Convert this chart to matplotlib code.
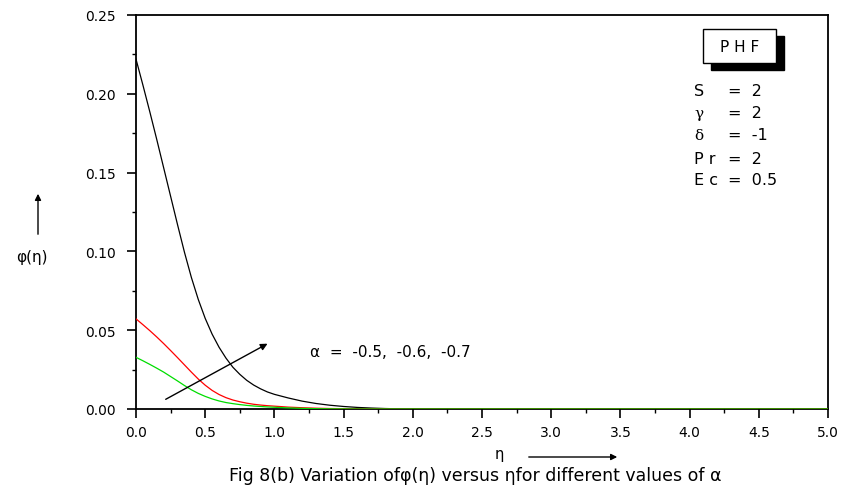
import numpy as np
import matplotlib
matplotlib.use("Agg")
import matplotlib.pyplot as plt
from matplotlib.patches import Rectangle, FancyArrowPatch
from matplotlib.ticker import MultipleLocator, FormatStrFormatter

plt.rcParams['font.family'] = ['DejaVu Sans']

# eta values and phi(eta) curves
eta = [0.0, 0.05, 0.1, 0.15, 0.2, 0.25, 0.3, 0.35, 0.4, 0.45, 0.5, 0.55, 0.6, 0.65, 0.7,
       0.75, 0.8, 0.85, 0.9, 0.95, 1.0, 1.1, 1.2, 1.3, 1.4, 1.5, 1.6, 1.7, 1.8, 1.9, 2.0, 5.0]
phi_a05 = [0.222, 0.2055, 0.1885, 0.171, 0.153, 0.135, 0.117, 0.0995, 0.0835, 0.0695, 0.0575,
           0.0475, 0.0392, 0.0323, 0.0265, 0.0220, 0.0182, 0.0152, 0.0128, 0.0108, 0.0093,
           0.0070, 0.0050, 0.0035, 0.0024, 0.0016, 0.0010, 0.0006, 0.0003, 0.0001, 0.00005, 0.0]
phi_a06 = [0.0572, 0.0535, 0.0497, 0.0457, 0.0415, 0.0371, 0.0326, 0.0280, 0.0234, 0.0190, 0.0151,
           0.0118, 0.0092, 0.0072, 0.0057, 0.0046, 0.0037, 0.0030, 0.0025, 0.0021, 0.0018,
           0.0012, 0.0008, 0.0005, 0.0003, 0.0002, 0.0001, 0.00005, 0.0, 0.0, 0.0, 0.0]
phi_a07 = [0.0328, 0.0306, 0.0283, 0.0259, 0.0234, 0.0206, 0.0178, 0.0149, 0.0122, 0.0099, 0.0080,
           0.0064, 0.0051, 0.0041, 0.0034, 0.0028, 0.0023, 0.0019, 0.0016, 0.0013, 0.0011,
           0.0007, 0.0004, 0.0002, 0.0001, 0.00005, 0.0, 0.0, 0.0, 0.0, 0.0, 0.0]

param_names = ['S', 'γ', 'δ', 'P r', 'E c']
param_values = ['=  2', '=  2', '=  -1', '=  2', '=  0.5']

fig = plt.figure(figsize=(8.41, 4.89), dpi=100)
ax = fig.add_axes([136/841, 1-410/489, 692/841, 394/489])

ax.plot(eta, phi_a05, color='black', lw=0.9, zorder=3)
ax.plot(eta, phi_a06, color='red', lw=0.9, zorder=3)
ax.plot(eta, phi_a07, color='#00dd00', lw=0.9, zorder=3)

ax.set_xlim(0, 5)
ax.set_ylim(0, 0.25)
ax.xaxis.set_major_locator(MultipleLocator(0.5))
ax.xaxis.set_minor_locator(MultipleLocator(0.25))
ax.yaxis.set_major_locator(MultipleLocator(0.05))
ax.yaxis.set_minor_locator(MultipleLocator(0.025))
ax.xaxis.set_major_formatter(FormatStrFormatter('%.1f'))
ax.yaxis.set_major_formatter(FormatStrFormatter('%.2f'))
ax.tick_params(which='major', direction='out', length=6.5, width=1.2, labelsize=10)
ax.tick_params(which='minor', direction='out', length=3, width=1.0)
ax.tick_params(axis='x', which='major', pad=5)
ax.tick_params(axis='y', which='major', pad=8)
for s in ax.spines.values():
    s.set_linewidth(1.3)

# arrow showing increasing alpha
ax.annotate('', xy=(0.968, 0.0423), xytext=(0.197, 0.0053),
            arrowprops=dict(arrowstyle='-|>', color='black', lw=1.0, mutation_scale=10))
ax.text(1.26, 0.0368, 'α  =  -0.5,  -0.6,  -0.7', fontsize=11, va='center')

# PHF box with shadow
bx, by, bw, bh = 703, 30, 73, 34
ax.add_patch(Rectangle(((bx+8-136)/692, (410-by-bh-7)/394), bw/692, bh/394,
                       transform=ax.transAxes, facecolor='black', edgecolor='black'))
ax.add_patch(Rectangle(((bx-136)/692, (410-by-bh)/394), bw/692, bh/394,
                       transform=ax.transAxes, facecolor='white', edgecolor='black', lw=1.0))
ax.text((bx+bw/2-136)/692, (410-by-bh/2)/394, 'P H F', transform=ax.transAxes,
        ha='center', va='center', fontsize=11)

rows_y = [92, 114, 136, 159, 181]
for name, val, yp in zip(param_names, param_values, rows_y):
    if name in ('γ', 'δ'):
        ax.text((694-136)/692, (410-yp)/394, name, transform=ax.transAxes,
                ha='left', va='center', fontsize=11, family='DejaVu Serif')
    else:
        ax.text((694-136)/692, (410-yp)/394, name, transform=ax.transAxes,
                ha='left', va='center', fontsize=11.5)
    ax.text((728-136)/692, (410-yp)/394, val, transform=ax.transAxes,
            ha='left', va='center', fontsize=11.5)

# y label with up arrow
fig.text(32/841, 1-258/489, 'φ(η)', ha='center', va='center', fontsize=11)
fig.add_artist(FancyArrowPatch((38/841, 1-238/489), (38/841, 1-192/489),
               transform=fig.transFigure, arrowstyle='-|>', mutation_scale=9, color='black', lw=1.0))

# x label with right arrow
fig.text(499/841, 1-455/489, 'η', ha='center', va='center', fontsize=10.5)
fig.add_artist(FancyArrowPatch((526/841, 1-458/489), (620/841, 1-458/489),
               transform=fig.transFigure, arrowstyle='-|>', mutation_scale=9, color='black', lw=1.0))

fig.text(475/841, 1-476/489, 'Fig 8(b) Variation ofφ(η) versus ηfor different values of α',
         ha='center', va='center', fontsize=12.5)

fig.savefig('out.png', dpi=100)
